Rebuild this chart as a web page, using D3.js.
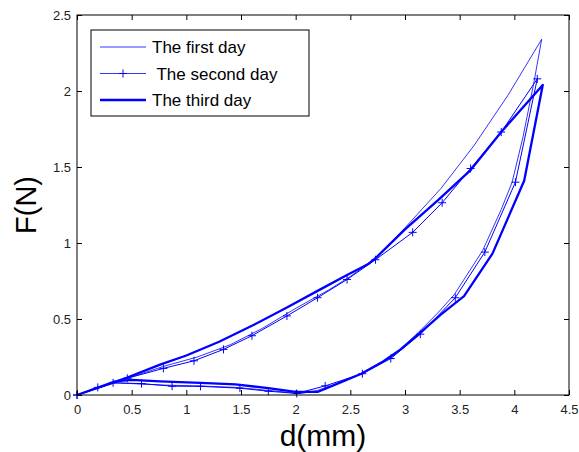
<!DOCTYPE html>
<html>
<head>
<meta charset="utf-8">
<script src="https://cdn.jsdelivr.net/npm/d3@7"></script>
<style>
  body { margin: 0; background: #fff; }
  svg { font-family: Arial, "Liberation Sans", sans-serif; }
</style>
</head>
<body>
<script>
// d (mm), F (N); each loop goes up the top branch and back
const firstDay = [
  [0, 0], [0.2, 0.05], [0.46, 0.11], [0.8, 0.19], [1.1, 0.25], [1.4, 0.33],
  [1.7, 0.44], [2.0, 0.57], [2.3, 0.69], [2.5, 0.78], [2.73, 0.9], [3.0, 1.1],
  [3.33, 1.36], [3.63, 1.64], [3.94, 1.97], [4.25, 2.34],
  [4.18, 2.06], [4.08, 1.7], [3.98, 1.4], [3.88, 1.22], [3.71, 0.95],
  [3.45, 0.66], [3.3, 0.54], [3.12, 0.41], [2.88, 0.25], [2.6, 0.14],
  [2.4, 0.08], [2.2, 0.03], [2.05, 0.01], [1.75, 0.03], [1.45, 0.05],
  [1.1, 0.06], [0.8, 0.065], [0.5, 0.075], [0.35, 0.08], [0, 0]
];

const secondDay = [
  [0, 0], [0.19, 0.05], [0.46, 0.11], [0.79, 0.175], [1.07, 0.225],
  [1.34, 0.3], [1.6, 0.39], [1.92, 0.52], [2.2, 0.64], [2.47, 0.76],
  [2.73, 0.89], [3.07, 1.07], [3.34, 1.265], [3.6, 1.49], [3.88, 1.73],
  [4.21, 2.08],
  [4.01, 1.4], [3.73, 0.94], [3.46, 0.64], [3.14, 0.4], [2.87, 0.24],
  [2.61, 0.14], [2.27, 0.06], [2.01, 0.01], [1.75, 0.025], [1.49, 0.045],
  [1.13, 0.057], [0.87, 0.058], [0.59, 0.075], [0.33, 0.08], [0, 0]
];

const thirdDay = [
  [0, 0], [0.2, 0.05], [0.46, 0.115], [0.76, 0.2], [1.0, 0.26], [1.3, 0.35],
  [1.6, 0.455], [1.92, 0.575], [2.2, 0.685], [2.47, 0.79], [2.66, 0.86],
  [2.73, 0.9], [3.0, 1.09], [3.3, 1.28], [3.6, 1.48], [3.88, 1.73],
  [4.26, 2.04],
  [4.09, 1.41], [3.8, 0.93], [3.54, 0.65], [3.33, 0.53], [3.14, 0.41],
  [2.96, 0.3], [2.8, 0.22], [2.6, 0.14], [2.4, 0.08], [2.2, 0.02],
  [2.0, 0.02], [1.75, 0.045], [1.45, 0.07], [1.13, 0.08], [0.76, 0.09],
  [0.5, 0.1], [0.35, 0.09], [0, 0]
];

const legendLabels = ["The first day", " The second day", "The third day"];
const xTicks = [0, 0.5, 1, 1.5, 2, 2.5, 3, 3.5, 4, 4.5];
const yTicks = [0, 0.5, 1, 1.5, 2, 2.5];

const width = 579, height = 452;
const margin = { top: 15, right: 10, bottom: 57, left: 77 };
const plotW = width - margin.left - margin.right;
const plotH = height - margin.top - margin.bottom;
const blue = "#0000ff";

const x = d3.scaleLinear().domain([0, 4.5]).range([0, plotW]);
const y = d3.scaleLinear().domain([0, 2.5]).range([plotH, 0]);

const svg = d3.select("body").append("svg")
  .attr("width", width)
  .attr("height", height);

const g = svg.append("g")
  .attr("transform", `translate(${margin.left},${margin.top})`);

const line = d3.line().x((d) => x(d[0])).y((d) => y(d[1]));

// curves
g.append("path").datum(firstDay).attr("d", line)
  .attr("fill", "none").attr("stroke", blue).attr("stroke-width", 0.8);
g.append("path").datum(secondDay).attr("d", line)
  .attr("fill", "none").attr("stroke", blue).attr("stroke-width", 1);
g.append("path").datum(thirdDay).attr("d", line)
  .attr("fill", "none").attr("stroke", blue).attr("stroke-width", 2.3)
  .attr("stroke-linejoin", "round");

// "+" markers of the second day
const plus = (sel) => sel.append("path")
  .attr("d", "M-4,0H4M0,-4V4")
  .attr("stroke", blue).attr("stroke-width", 1).attr("fill", "none");
g.selectAll("g.mk").data(secondDay).enter().append("g")
  .attr("class", "mk")
  .attr("transform", (d) => `translate(${x(d[0])},${y(d[1])})`)
  .call(plus);

// axes box with inward ticks on all four sides
g.append("rect").attr("width", plotW).attr("height", plotH)
  .attr("fill", "none").attr("stroke", "#000").attr("stroke-width", 1);

const tick = 5;
g.append("g").attr("transform", `translate(0,${plotH})`)
  .call(d3.axisBottom(x).tickValues(xTicks).tickSize(-tick).tickPadding(10).tickFormat(d3.format("")))
  .call((a) => a.select(".domain").remove());
g.append("g")
  .call(d3.axisTop(x).tickValues(xTicks).tickSize(-tick).tickFormat(""))
  .call((a) => a.select(".domain").remove());
g.append("g")
  .call(d3.axisLeft(y).tickValues(yTicks).tickSize(-tick).tickPadding(6).tickFormat(d3.format("")))
  .call((a) => a.select(".domain").remove());
g.append("g").attr("transform", `translate(${plotW},0)`)
  .call(d3.axisRight(y).tickValues(yTicks).tickSize(-tick).tickFormat(""))
  .call((a) => a.select(".domain").remove());

g.selectAll(".tick text")
  .style("font-size", "13px")
  .style("fill", "#222")
  .style("font-family", "Arial, 'Liberation Sans', sans-serif");
g.selectAll(".tick line").attr("stroke", "#000");

// axis titles
svg.append("text")
  .attr("x", margin.left + plotW / 2)
  .attr("y", 446)
  .attr("text-anchor", "middle")
  .style("font-size", "30px")
  .text("d(mm)");
svg.append("text")
  .attr("transform", "translate(36,205) rotate(-90)")
  .attr("text-anchor", "middle")
  .style("font-size", "29px")
  .text("F(N)");

// legend
const legend = svg.append("g").attr("transform", "translate(91,30)");
legend.append("rect").attr("width", 218).attr("height", 86)
  .attr("fill", "#fff").attr("stroke", "#000").attr("stroke-width", 1);
const widths = [0.8, 0.8, 2.3];
legendLabels.forEach((t, i) => {
  const ly = 17 + i * 26.5;
  legend.append("line")
    .attr("x1", 9).attr("x2", 55).attr("y1", ly).attr("y2", ly)
    .attr("stroke", blue).attr("stroke-width", widths[i]);
  if (i === 1) {
    legend.append("g").attr("transform", `translate(32,${ly})`).call(plus);
  }
  legend.append("text")
    .attr("x", 61).attr("y", ly + 6)
    .style("font-size", "17px")
    .attr("xml:space", "preserve")
    .style("white-space", "pre")
    .text(t);
});
</script>
</body>
</html>
